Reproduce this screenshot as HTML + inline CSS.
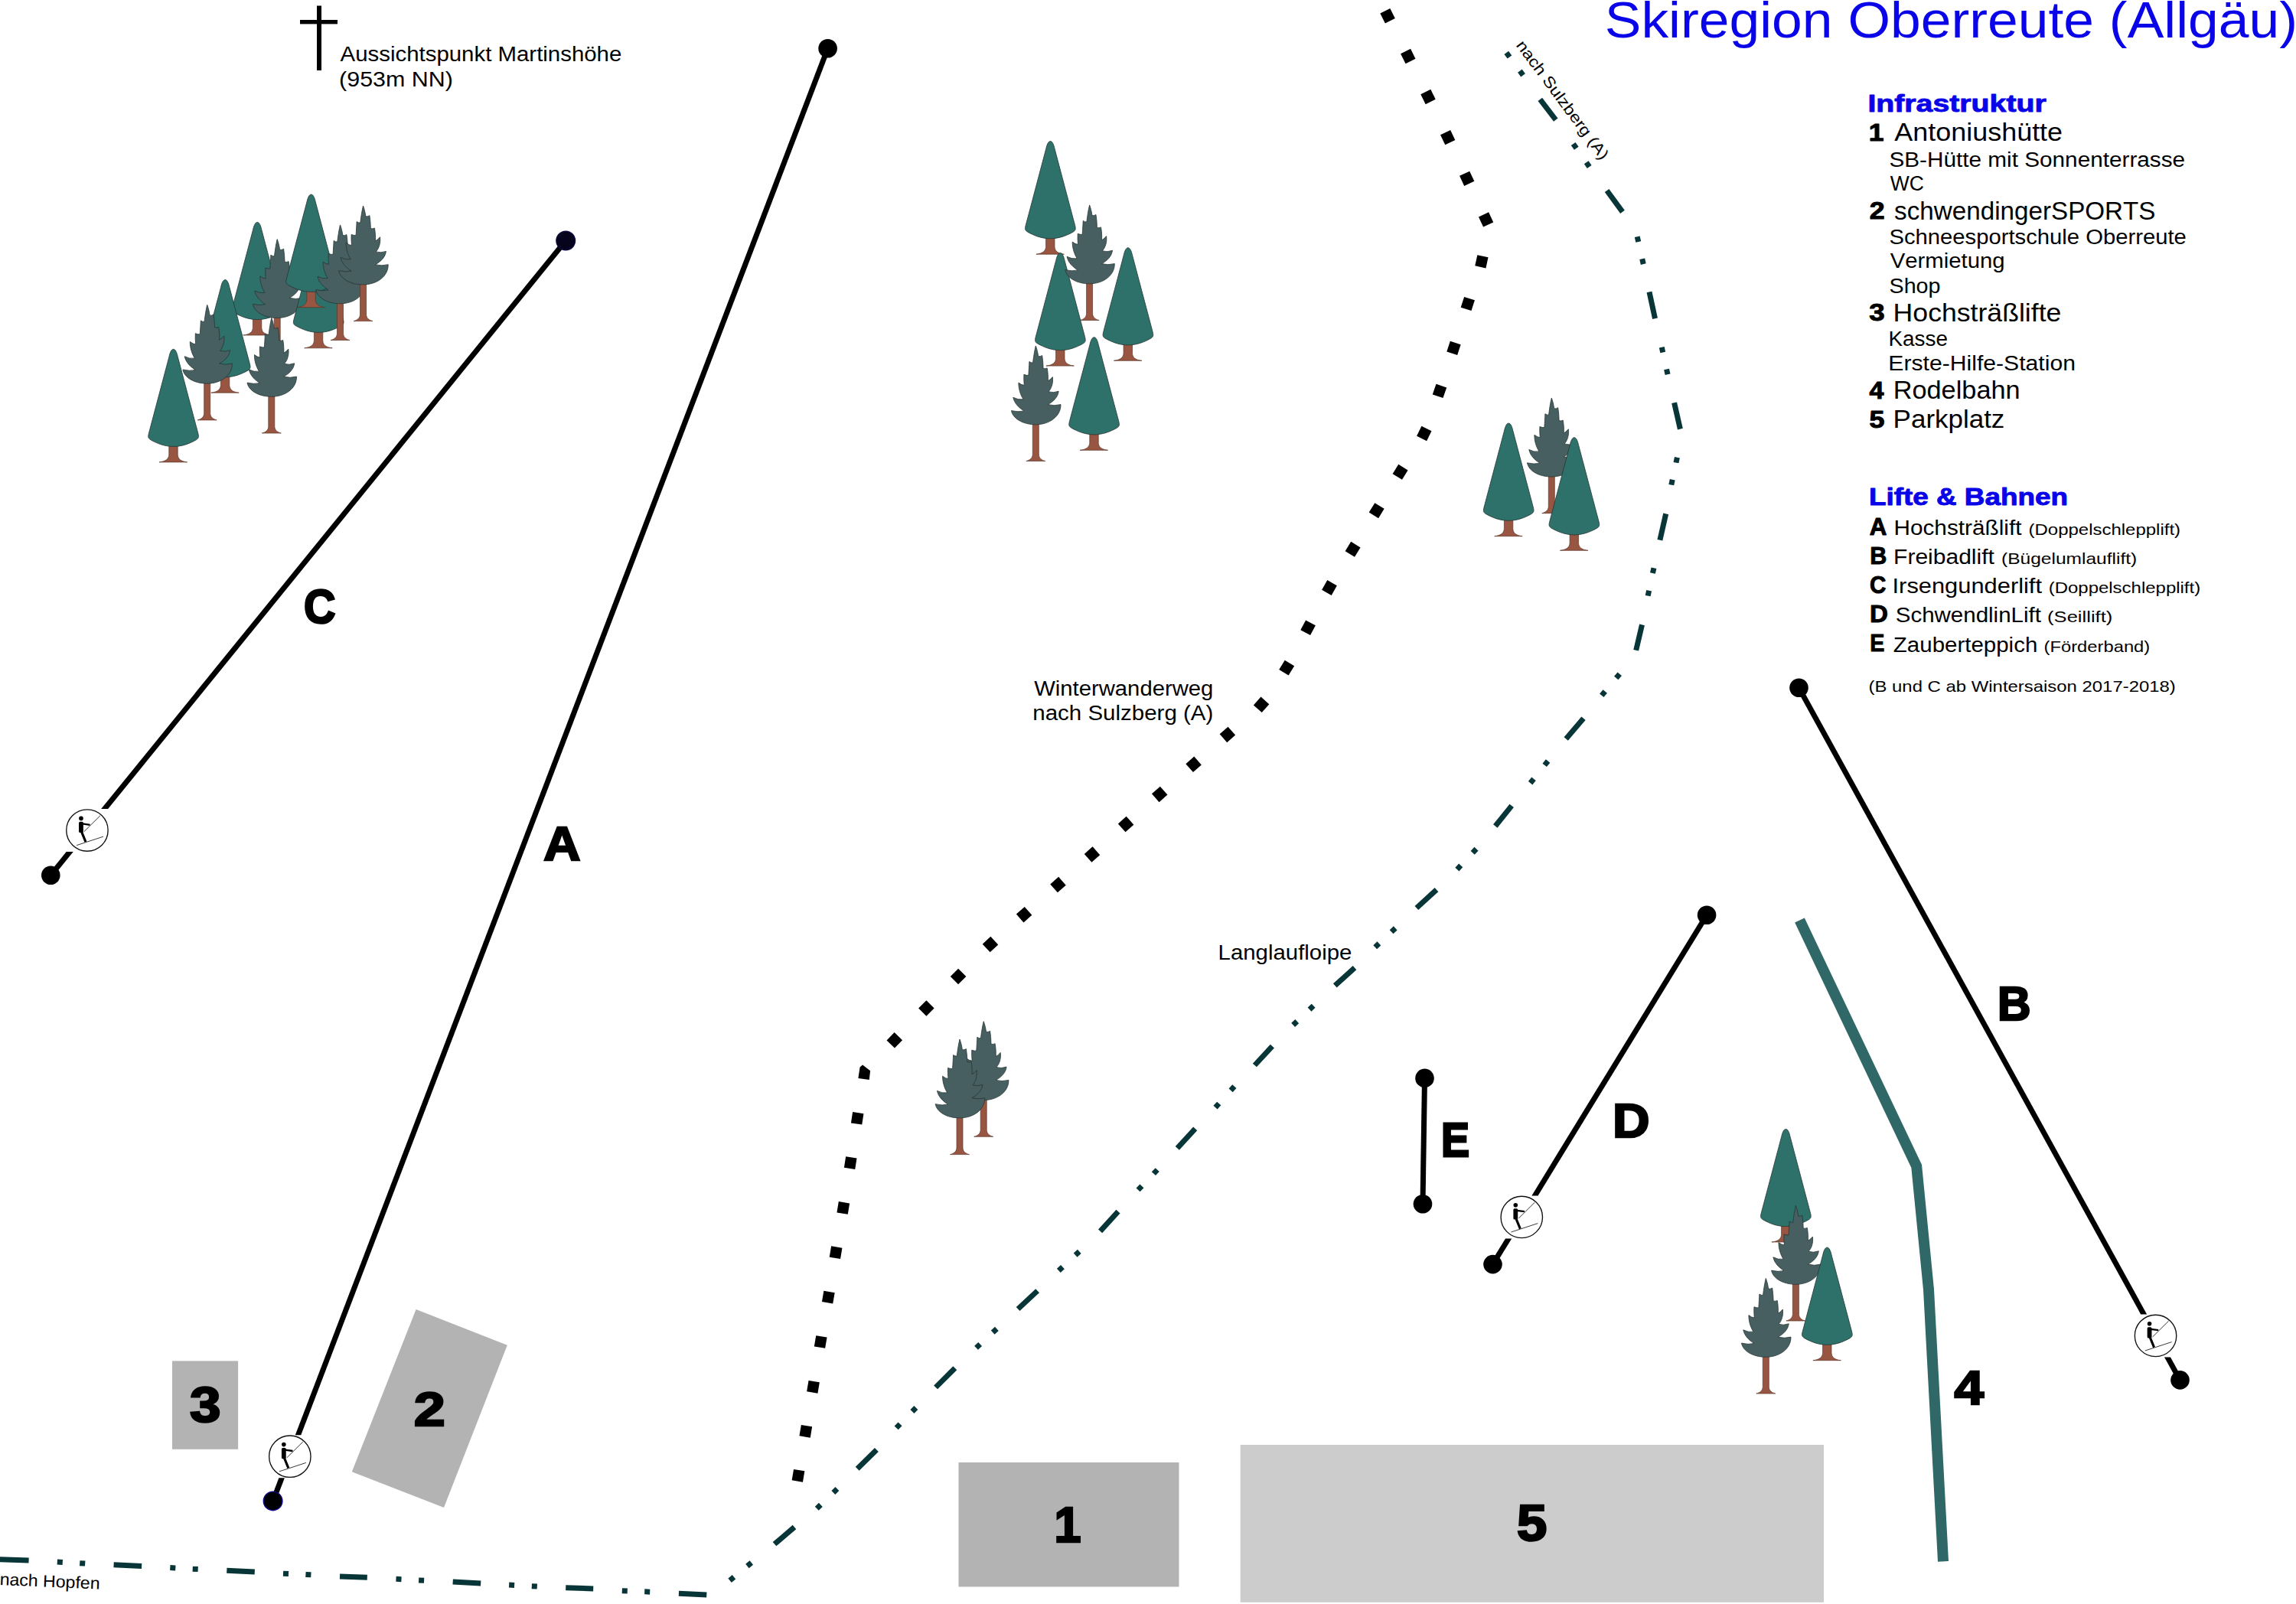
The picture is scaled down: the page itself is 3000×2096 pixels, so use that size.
<!DOCTYPE html>
<html><head><meta charset="utf-8"><title>Skiregion Oberreute</title><style>html,body{margin:0;padding:0;background:#fff;overflow:hidden;}svg{display:block;}</style></head><body>
<svg width="3000" height="2096" viewBox="0 0 3000 2096" font-family='"Liberation Sans", sans-serif' style="font-kerning:none"><rect x="225" y="1778.4" width="86.1" height="115.4" fill="#b3b3b3"/>
<polygon points="543.6,1710.9 662.8,1757.7 580,1970 459.8,1923.2" fill="#b3b3b3"/>
<rect x="1252.5" y="1911" width="288" height="162.5" fill="#b3b3b3"/>
<rect x="1620.7" y="1888" width="762.3" height="205.8" fill="#cccccc"/>
<g transform="translate(336.2,290.4)"><path d="M-5.8,124 L5.6,124 L5.6,138 C6,143.5 9.5,146.6 18,147.6 L-18.5,147.6 C-10,146.6 -6.2,143.5 -5.8,138 Z" fill="#985542" stroke="#5a3628" stroke-width="0.7"/><path d="M0,0 C2.7,0 4.5,4.5 5.7,10 L32.2,110 C33.4,114.5 33,116.5 30,118.3 C21,123.5 11,127.2 0,127.2 C-11,127.2 -21,123.5 -30,118.3 C-33,116.5 -33.4,114.5 -32.2,110 L-5.7,10 C-4.5,4.5 -2.7,0 0,0 Z" fill="#2d716a" stroke="#263634" stroke-width="0.8"/></g>
<g transform="translate(362.2,312.6)"><path d="M-4,100 L4,100 L4,142 C4.3,147 8,149.6 12.5,150.6 L-12.5,150.6 C-8,149.6 -4.3,147 -4,142 Z" fill="#985542" stroke="#5a3628" stroke-width="0.7"/><path d="M0,0 C1.5,4 2.8,9 3.3,13.6 Q6,14.5 8.4,12.6 C9.2,18 9.8,24 9.8,29.5 Q12.5,30.5 14.9,29 C16,35 16.3,41 15.9,45.8 Q19,44.5 22,40.7 C23,48 21,55 16.8,59.9 Q23,62 29.9,59.4 C29,67 23,73 15.9,76.7 Q24,79 32.7,76.7 C33,92 18,102.9 0,102.9 C-17,102.9 -30,95 -31.8,84.7 Q-23,87 -15.4,85.1 C-22,81 -28,75 -29.5,67.4 Q-23,71 -16.3,69.8 C-20,64 -22.5,56 -22.4,48.2 Q-18.5,51.5 -15,51.5 C-15.6,47 -15.6,42 -15.4,37.4 Q-12,39 -9.4,38.4 C-9,32 -8.6,26 -8.4,20.6 Q-6,22.5 -3.7,22 C-2.8,14 -1.5,6 0,0 Z" fill="#475f60" stroke="#263634" stroke-width="0.8"/></g>
<g transform="translate(416.2,307.2)"><path d="M-5.8,124 L5.6,124 L5.6,138 C6,143.5 9.5,146.6 18,147.6 L-18.5,147.6 C-10,146.6 -6.2,143.5 -5.8,138 Z" fill="#985542" stroke="#5a3628" stroke-width="0.7"/><path d="M0,0 C2.7,0 4.5,4.5 5.7,10 L32.2,110 C33.4,114.5 33,116.5 30,118.3 C21,123.5 11,127.2 0,127.2 C-11,127.2 -21,123.5 -30,118.3 C-33,116.5 -33.4,114.5 -32.2,110 L-5.7,10 C-4.5,4.5 -2.7,0 0,0 Z" fill="#2d716a" stroke="#263634" stroke-width="0.8"/></g>
<g transform="translate(406.6,254.1)"><path d="M-5.8,124 L5.6,124 L5.6,138 C6,143.5 9.5,146.6 18,147.6 L-18.5,147.6 C-10,146.6 -6.2,143.5 -5.8,138 Z" fill="#985542" stroke="#5a3628" stroke-width="0.7"/><path d="M0,0 C2.7,0 4.5,4.5 5.7,10 L32.2,110 C33.4,114.5 33,116.5 30,118.3 C21,123.5 11,127.2 0,127.2 C-11,127.2 -21,123.5 -30,118.3 C-33,116.5 -33.4,114.5 -32.2,110 L-5.7,10 C-4.5,4.5 -2.7,0 0,0 Z" fill="#2d716a" stroke="#263634" stroke-width="0.8"/></g>
<g transform="translate(444.5,293.9)"><path d="M-4,100 L4,100 L4,142 C4.3,147 8,149.6 12.5,150.6 L-12.5,150.6 C-8,149.6 -4.3,147 -4,142 Z" fill="#985542" stroke="#5a3628" stroke-width="0.7"/><path d="M0,0 C1.5,4 2.8,9 3.3,13.6 Q6,14.5 8.4,12.6 C9.2,18 9.8,24 9.8,29.5 Q12.5,30.5 14.9,29 C16,35 16.3,41 15.9,45.8 Q19,44.5 22,40.7 C23,48 21,55 16.8,59.9 Q23,62 29.9,59.4 C29,67 23,73 15.9,76.7 Q24,79 32.7,76.7 C33,92 18,102.9 0,102.9 C-17,102.9 -30,95 -31.8,84.7 Q-23,87 -15.4,85.1 C-22,81 -28,75 -29.5,67.4 Q-23,71 -16.3,69.8 C-20,64 -22.5,56 -22.4,48.2 Q-18.5,51.5 -15,51.5 C-15.6,47 -15.6,42 -15.4,37.4 Q-12,39 -9.4,38.4 C-9,32 -8.6,26 -8.4,20.6 Q-6,22.5 -3.7,22 C-2.8,14 -1.5,6 0,0 Z" fill="#475f60" stroke="#263634" stroke-width="0.8"/></g>
<g transform="translate(474.5,269)"><path d="M-4,100 L4,100 L4,142 C4.3,147 8,149.6 12.5,150.6 L-12.5,150.6 C-8,149.6 -4.3,147 -4,142 Z" fill="#985542" stroke="#5a3628" stroke-width="0.7"/><path d="M0,0 C1.5,4 2.8,9 3.3,13.6 Q6,14.5 8.4,12.6 C9.2,18 9.8,24 9.8,29.5 Q12.5,30.5 14.9,29 C16,35 16.3,41 15.9,45.8 Q19,44.5 22,40.7 C23,48 21,55 16.8,59.9 Q23,62 29.9,59.4 C29,67 23,73 15.9,76.7 Q24,79 32.7,76.7 C33,92 18,102.9 0,102.9 C-17,102.9 -30,95 -31.8,84.7 Q-23,87 -15.4,85.1 C-22,81 -28,75 -29.5,67.4 Q-23,71 -16.3,69.8 C-20,64 -22.5,56 -22.4,48.2 Q-18.5,51.5 -15,51.5 C-15.6,47 -15.6,42 -15.4,37.4 Q-12,39 -9.4,38.4 C-9,32 -8.6,26 -8.4,20.6 Q-6,22.5 -3.7,22 C-2.8,14 -1.5,6 0,0 Z" fill="#475f60" stroke="#263634" stroke-width="0.8"/></g>
<g transform="translate(294.2,365.6)"><path d="M-5.8,124 L5.6,124 L5.6,138 C6,143.5 9.5,146.6 18,147.6 L-18.5,147.6 C-10,146.6 -6.2,143.5 -5.8,138 Z" fill="#985542" stroke="#5a3628" stroke-width="0.7"/><path d="M0,0 C2.7,0 4.5,4.5 5.7,10 L32.2,110 C33.4,114.5 33,116.5 30,118.3 C21,123.5 11,127.2 0,127.2 C-11,127.2 -21,123.5 -30,118.3 C-33,116.5 -33.4,114.5 -32.2,110 L-5.7,10 C-4.5,4.5 -2.7,0 0,0 Z" fill="#2d716a" stroke="#263634" stroke-width="0.8"/></g>
<g transform="translate(270.7,398.3)"><path d="M-4,100 L4,100 L4,142 C4.3,147 8,149.6 12.5,150.6 L-12.5,150.6 C-8,149.6 -4.3,147 -4,142 Z" fill="#985542" stroke="#5a3628" stroke-width="0.7"/><path d="M0,0 C1.5,4 2.8,9 3.3,13.6 Q6,14.5 8.4,12.6 C9.2,18 9.8,24 9.8,29.5 Q12.5,30.5 14.9,29 C16,35 16.3,41 15.9,45.8 Q19,44.5 22,40.7 C23,48 21,55 16.8,59.9 Q23,62 29.9,59.4 C29,67 23,73 15.9,76.7 Q24,79 32.7,76.7 C33,92 18,102.9 0,102.9 C-17,102.9 -30,95 -31.8,84.7 Q-23,87 -15.4,85.1 C-22,81 -28,75 -29.5,67.4 Q-23,71 -16.3,69.8 C-20,64 -22.5,56 -22.4,48.2 Q-18.5,51.5 -15,51.5 C-15.6,47 -15.6,42 -15.4,37.4 Q-12,39 -9.4,38.4 C-9,32 -8.6,26 -8.4,20.6 Q-6,22.5 -3.7,22 C-2.8,14 -1.5,6 0,0 Z" fill="#475f60" stroke="#263634" stroke-width="0.8"/></g>
<g transform="translate(354.8,415.4)"><path d="M-4,100 L4,100 L4,142 C4.3,147 8,149.6 12.5,150.6 L-12.5,150.6 C-8,149.6 -4.3,147 -4,142 Z" fill="#985542" stroke="#5a3628" stroke-width="0.7"/><path d="M0,0 C1.5,4 2.8,9 3.3,13.6 Q6,14.5 8.4,12.6 C9.2,18 9.8,24 9.8,29.5 Q12.5,30.5 14.9,29 C16,35 16.3,41 15.9,45.8 Q19,44.5 22,40.7 C23,48 21,55 16.8,59.9 Q23,62 29.9,59.4 C29,67 23,73 15.9,76.7 Q24,79 32.7,76.7 C33,92 18,102.9 0,102.9 C-17,102.9 -30,95 -31.8,84.7 Q-23,87 -15.4,85.1 C-22,81 -28,75 -29.5,67.4 Q-23,71 -16.3,69.8 C-20,64 -22.5,56 -22.4,48.2 Q-18.5,51.5 -15,51.5 C-15.6,47 -15.6,42 -15.4,37.4 Q-12,39 -9.4,38.4 C-9,32 -8.6,26 -8.4,20.6 Q-6,22.5 -3.7,22 C-2.8,14 -1.5,6 0,0 Z" fill="#475f60" stroke="#263634" stroke-width="0.8"/></g>
<g transform="translate(226.6,456.3)"><path d="M-5.8,124 L5.6,124 L5.6,138 C6,143.5 9.5,146.6 18,147.6 L-18.5,147.6 C-10,146.6 -6.2,143.5 -5.8,138 Z" fill="#985542" stroke="#5a3628" stroke-width="0.7"/><path d="M0,0 C2.7,0 4.5,4.5 5.7,10 L32.2,110 C33.4,114.5 33,116.5 30,118.3 C21,123.5 11,127.2 0,127.2 C-11,127.2 -21,123.5 -30,118.3 C-33,116.5 -33.4,114.5 -32.2,110 L-5.7,10 C-4.5,4.5 -2.7,0 0,0 Z" fill="#2d716a" stroke="#263634" stroke-width="0.8"/></g>
<g transform="translate(1372.4,184.6)"><path d="M-5.8,124 L5.6,124 L5.6,138 C6,143.5 9.5,146.6 18,147.6 L-18.5,147.6 C-10,146.6 -6.2,143.5 -5.8,138 Z" fill="#985542" stroke="#5a3628" stroke-width="0.7"/><path d="M0,0 C2.7,0 4.5,4.5 5.7,10 L32.2,110 C33.4,114.5 33,116.5 30,118.3 C21,123.5 11,127.2 0,127.2 C-11,127.2 -21,123.5 -30,118.3 C-33,116.5 -33.4,114.5 -32.2,110 L-5.7,10 C-4.5,4.5 -2.7,0 0,0 Z" fill="#2d716a" stroke="#263634" stroke-width="0.8"/></g>
<g transform="translate(1385.4,330.5)"><path d="M-5.8,124 L5.6,124 L5.6,138 C6,143.5 9.5,146.6 18,147.6 L-18.5,147.6 C-10,146.6 -6.2,143.5 -5.8,138 Z" fill="#985542" stroke="#5a3628" stroke-width="0.7"/><path d="M0,0 C2.7,0 4.5,4.5 5.7,10 L32.2,110 C33.4,114.5 33,116.5 30,118.3 C21,123.5 11,127.2 0,127.2 C-11,127.2 -21,123.5 -30,118.3 C-33,116.5 -33.4,114.5 -32.2,110 L-5.7,10 C-4.5,4.5 -2.7,0 0,0 Z" fill="#2d716a" stroke="#263634" stroke-width="0.8"/></g>
<g transform="translate(1423.6,267.9)"><path d="M-4,100 L4,100 L4,142 C4.3,147 8,149.6 12.5,150.6 L-12.5,150.6 C-8,149.6 -4.3,147 -4,142 Z" fill="#985542" stroke="#5a3628" stroke-width="0.7"/><path d="M0,0 C1.5,4 2.8,9 3.3,13.6 Q6,14.5 8.4,12.6 C9.2,18 9.8,24 9.8,29.5 Q12.5,30.5 14.9,29 C16,35 16.3,41 15.9,45.8 Q19,44.5 22,40.7 C23,48 21,55 16.8,59.9 Q23,62 29.9,59.4 C29,67 23,73 15.9,76.7 Q24,79 32.7,76.7 C33,92 18,102.9 0,102.9 C-17,102.9 -30,95 -31.8,84.7 Q-23,87 -15.4,85.1 C-22,81 -28,75 -29.5,67.4 Q-23,71 -16.3,69.8 C-20,64 -22.5,56 -22.4,48.2 Q-18.5,51.5 -15,51.5 C-15.6,47 -15.6,42 -15.4,37.4 Q-12,39 -9.4,38.4 C-9,32 -8.6,26 -8.4,20.6 Q-6,22.5 -3.7,22 C-2.8,14 -1.5,6 0,0 Z" fill="#475f60" stroke="#263634" stroke-width="0.8"/></g>
<g transform="translate(1473.9,323.7)"><path d="M-5.8,124 L5.6,124 L5.6,138 C6,143.5 9.5,146.6 18,147.6 L-18.5,147.6 C-10,146.6 -6.2,143.5 -5.8,138 Z" fill="#985542" stroke="#5a3628" stroke-width="0.7"/><path d="M0,0 C2.7,0 4.5,4.5 5.7,10 L32.2,110 C33.4,114.5 33,116.5 30,118.3 C21,123.5 11,127.2 0,127.2 C-11,127.2 -21,123.5 -30,118.3 C-33,116.5 -33.4,114.5 -32.2,110 L-5.7,10 C-4.5,4.5 -2.7,0 0,0 Z" fill="#2d716a" stroke="#263634" stroke-width="0.8"/></g>
<g transform="translate(1353.3,451.9)"><path d="M-4,100 L4,100 L4,142 C4.3,147 8,149.6 12.5,150.6 L-12.5,150.6 C-8,149.6 -4.3,147 -4,142 Z" fill="#985542" stroke="#5a3628" stroke-width="0.7"/><path d="M0,0 C1.5,4 2.8,9 3.3,13.6 Q6,14.5 8.4,12.6 C9.2,18 9.8,24 9.8,29.5 Q12.5,30.5 14.9,29 C16,35 16.3,41 15.9,45.8 Q19,44.5 22,40.7 C23,48 21,55 16.8,59.9 Q23,62 29.9,59.4 C29,67 23,73 15.9,76.7 Q24,79 32.7,76.7 C33,92 18,102.9 0,102.9 C-17,102.9 -30,95 -31.8,84.7 Q-23,87 -15.4,85.1 C-22,81 -28,75 -29.5,67.4 Q-23,71 -16.3,69.8 C-20,64 -22.5,56 -22.4,48.2 Q-18.5,51.5 -15,51.5 C-15.6,47 -15.6,42 -15.4,37.4 Q-12,39 -9.4,38.4 C-9,32 -8.6,26 -8.4,20.6 Q-6,22.5 -3.7,22 C-2.8,14 -1.5,6 0,0 Z" fill="#475f60" stroke="#263634" stroke-width="0.8"/></g>
<g transform="translate(1429.6,440.7)"><path d="M-5.8,124 L5.6,124 L5.6,138 C6,143.5 9.5,146.6 18,147.6 L-18.5,147.6 C-10,146.6 -6.2,143.5 -5.8,138 Z" fill="#985542" stroke="#5a3628" stroke-width="0.7"/><path d="M0,0 C2.7,0 4.5,4.5 5.7,10 L32.2,110 C33.4,114.5 33,116.5 30,118.3 C21,123.5 11,127.2 0,127.2 C-11,127.2 -21,123.5 -30,118.3 C-33,116.5 -33.4,114.5 -32.2,110 L-5.7,10 C-4.5,4.5 -2.7,0 0,0 Z" fill="#2d716a" stroke="#263634" stroke-width="0.8"/></g>
<g transform="translate(2027.3,520.1)"><path d="M-4,100 L4,100 L4,142 C4.3,147 8,149.6 12.5,150.6 L-12.5,150.6 C-8,149.6 -4.3,147 -4,142 Z" fill="#985542" stroke="#5a3628" stroke-width="0.7"/><path d="M0,0 C1.5,4 2.8,9 3.3,13.6 Q6,14.5 8.4,12.6 C9.2,18 9.8,24 9.8,29.5 Q12.5,30.5 14.9,29 C16,35 16.3,41 15.9,45.8 Q19,44.5 22,40.7 C23,48 21,55 16.8,59.9 Q23,62 29.9,59.4 C29,67 23,73 15.9,76.7 Q24,79 32.7,76.7 C33,92 18,102.9 0,102.9 C-17,102.9 -30,95 -31.8,84.7 Q-23,87 -15.4,85.1 C-22,81 -28,75 -29.5,67.4 Q-23,71 -16.3,69.8 C-20,64 -22.5,56 -22.4,48.2 Q-18.5,51.5 -15,51.5 C-15.6,47 -15.6,42 -15.4,37.4 Q-12,39 -9.4,38.4 C-9,32 -8.6,26 -8.4,20.6 Q-6,22.5 -3.7,22 C-2.8,14 -1.5,6 0,0 Z" fill="#475f60" stroke="#263634" stroke-width="0.8"/></g>
<g transform="translate(1971.2,553.1)"><path d="M-5.8,124 L5.6,124 L5.6,138 C6,143.5 9.5,146.6 18,147.6 L-18.5,147.6 C-10,146.6 -6.2,143.5 -5.8,138 Z" fill="#985542" stroke="#5a3628" stroke-width="0.7"/><path d="M0,0 C2.7,0 4.5,4.5 5.7,10 L32.2,110 C33.4,114.5 33,116.5 30,118.3 C21,123.5 11,127.2 0,127.2 C-11,127.2 -21,123.5 -30,118.3 C-33,116.5 -33.4,114.5 -32.2,110 L-5.7,10 C-4.5,4.5 -2.7,0 0,0 Z" fill="#2d716a" stroke="#263634" stroke-width="0.8"/></g>
<g transform="translate(2056.9,571.7)"><path d="M-5.8,124 L5.6,124 L5.6,138 C6,143.5 9.5,146.6 18,147.6 L-18.5,147.6 C-10,146.6 -6.2,143.5 -5.8,138 Z" fill="#985542" stroke="#5a3628" stroke-width="0.7"/><path d="M0,0 C2.7,0 4.5,4.5 5.7,10 L32.2,110 C33.4,114.5 33,116.5 30,118.3 C21,123.5 11,127.2 0,127.2 C-11,127.2 -21,123.5 -30,118.3 C-33,116.5 -33.4,114.5 -32.2,110 L-5.7,10 C-4.5,4.5 -2.7,0 0,0 Z" fill="#2d716a" stroke="#263634" stroke-width="0.8"/></g>
<g transform="translate(1285.2,1334.7)"><path d="M-4,100 L4,100 L4,142 C4.3,147 8,149.6 12.5,150.6 L-12.5,150.6 C-8,149.6 -4.3,147 -4,142 Z" fill="#985542" stroke="#5a3628" stroke-width="0.7"/><path d="M0,0 C1.5,4 2.8,9 3.3,13.6 Q6,14.5 8.4,12.6 C9.2,18 9.8,24 9.8,29.5 Q12.5,30.5 14.9,29 C16,35 16.3,41 15.9,45.8 Q19,44.5 22,40.7 C23,48 21,55 16.8,59.9 Q23,62 29.9,59.4 C29,67 23,73 15.9,76.7 Q24,79 32.7,76.7 C33,92 18,102.9 0,102.9 C-17,102.9 -30,95 -31.8,84.7 Q-23,87 -15.4,85.1 C-22,81 -28,75 -29.5,67.4 Q-23,71 -16.3,69.8 C-20,64 -22.5,56 -22.4,48.2 Q-18.5,51.5 -15,51.5 C-15.6,47 -15.6,42 -15.4,37.4 Q-12,39 -9.4,38.4 C-9,32 -8.6,26 -8.4,20.6 Q-6,22.5 -3.7,22 C-2.8,14 -1.5,6 0,0 Z" fill="#475f60" stroke="#263634" stroke-width="0.8"/></g>
<g transform="translate(1254,1358)"><path d="M-4,100 L4,100 L4,142 C4.3,147 8,149.6 12.5,150.6 L-12.5,150.6 C-8,149.6 -4.3,147 -4,142 Z" fill="#985542" stroke="#5a3628" stroke-width="0.7"/><path d="M0,0 C1.5,4 2.8,9 3.3,13.6 Q6,14.5 8.4,12.6 C9.2,18 9.8,24 9.8,29.5 Q12.5,30.5 14.9,29 C16,35 16.3,41 15.9,45.8 Q19,44.5 22,40.7 C23,48 21,55 16.8,59.9 Q23,62 29.9,59.4 C29,67 23,73 15.9,76.7 Q24,79 32.7,76.7 C33,92 18,102.9 0,102.9 C-17,102.9 -30,95 -31.8,84.7 Q-23,87 -15.4,85.1 C-22,81 -28,75 -29.5,67.4 Q-23,71 -16.3,69.8 C-20,64 -22.5,56 -22.4,48.2 Q-18.5,51.5 -15,51.5 C-15.6,47 -15.6,42 -15.4,37.4 Q-12,39 -9.4,38.4 C-9,32 -8.6,26 -8.4,20.6 Q-6,22.5 -3.7,22 C-2.8,14 -1.5,6 0,0 Z" fill="#475f60" stroke="#263634" stroke-width="0.8"/></g>
<g transform="translate(2333.4,1475.4)"><path d="M-5.8,124 L5.6,124 L5.6,138 C6,143.5 9.5,146.6 18,147.6 L-18.5,147.6 C-10,146.6 -6.2,143.5 -5.8,138 Z" fill="#985542" stroke="#5a3628" stroke-width="0.7"/><path d="M0,0 C2.7,0 4.5,4.5 5.7,10 L32.2,110 C33.4,114.5 33,116.5 30,118.3 C21,123.5 11,127.2 0,127.2 C-11,127.2 -21,123.5 -30,118.3 C-33,116.5 -33.4,114.5 -32.2,110 L-5.7,10 C-4.5,4.5 -2.7,0 0,0 Z" fill="#2d716a" stroke="#263634" stroke-width="0.8"/></g>
<g transform="translate(2346.4,1575.4)"><path d="M-4,100 L4,100 L4,142 C4.3,147 8,149.6 12.5,150.6 L-12.5,150.6 C-8,149.6 -4.3,147 -4,142 Z" fill="#985542" stroke="#5a3628" stroke-width="0.7"/><path d="M0,0 C1.5,4 2.8,9 3.3,13.6 Q6,14.5 8.4,12.6 C9.2,18 9.8,24 9.8,29.5 Q12.5,30.5 14.9,29 C16,35 16.3,41 15.9,45.8 Q19,44.5 22,40.7 C23,48 21,55 16.8,59.9 Q23,62 29.9,59.4 C29,67 23,73 15.9,76.7 Q24,79 32.7,76.7 C33,92 18,102.9 0,102.9 C-17,102.9 -30,95 -31.8,84.7 Q-23,87 -15.4,85.1 C-22,81 -28,75 -29.5,67.4 Q-23,71 -16.3,69.8 C-20,64 -22.5,56 -22.4,48.2 Q-18.5,51.5 -15,51.5 C-15.6,47 -15.6,42 -15.4,37.4 Q-12,39 -9.4,38.4 C-9,32 -8.6,26 -8.4,20.6 Q-6,22.5 -3.7,22 C-2.8,14 -1.5,6 0,0 Z" fill="#475f60" stroke="#263634" stroke-width="0.8"/></g>
<g transform="translate(2387.4,1630.1)"><path d="M-5.8,124 L5.6,124 L5.6,138 C6,143.5 9.5,146.6 18,147.6 L-18.5,147.6 C-10,146.6 -6.2,143.5 -5.8,138 Z" fill="#985542" stroke="#5a3628" stroke-width="0.7"/><path d="M0,0 C2.7,0 4.5,4.5 5.7,10 L32.2,110 C33.4,114.5 33,116.5 30,118.3 C21,123.5 11,127.2 0,127.2 C-11,127.2 -21,123.5 -30,118.3 C-33,116.5 -33.4,114.5 -32.2,110 L-5.7,10 C-4.5,4.5 -2.7,0 0,0 Z" fill="#2d716a" stroke="#263634" stroke-width="0.8"/></g>
<g transform="translate(2307.3,1670.4)"><path d="M-4,100 L4,100 L4,142 C4.3,147 8,149.6 12.5,150.6 L-12.5,150.6 C-8,149.6 -4.3,147 -4,142 Z" fill="#985542" stroke="#5a3628" stroke-width="0.7"/><path d="M0,0 C1.5,4 2.8,9 3.3,13.6 Q6,14.5 8.4,12.6 C9.2,18 9.8,24 9.8,29.5 Q12.5,30.5 14.9,29 C16,35 16.3,41 15.9,45.8 Q19,44.5 22,40.7 C23,48 21,55 16.8,59.9 Q23,62 29.9,59.4 C29,67 23,73 15.9,76.7 Q24,79 32.7,76.7 C33,92 18,102.9 0,102.9 C-17,102.9 -30,95 -31.8,84.7 Q-23,87 -15.4,85.1 C-22,81 -28,75 -29.5,67.4 Q-23,71 -16.3,69.8 C-20,64 -22.5,56 -22.4,48.2 Q-18.5,51.5 -15,51.5 C-15.6,47 -15.6,42 -15.4,37.4 Q-12,39 -9.4,38.4 C-9,32 -8.6,26 -8.4,20.6 Q-6,22.5 -3.7,22 C-2.8,14 -1.5,6 0,0 Z" fill="#475f60" stroke="#263634" stroke-width="0.8"/></g>
<g fill="#000"><rect x="-7.25" y="-7.25" width="14.5" height="14.5" transform="translate(1813.1,20.7) rotate(63.22)"/><rect x="-7.25" y="-7.25" width="14.5" height="14.5" transform="translate(1839.8,73.6) rotate(63.43)"/><rect x="-7.25" y="-7.25" width="14.5" height="14.5" transform="translate(1866,126.5) rotate(63.91)"/><rect x="-7.25" y="-7.25" width="14.5" height="14.5" transform="translate(1891.7,179.6) rotate(64.61)"/><rect x="-7.25" y="-7.25" width="14.5" height="14.5" transform="translate(1916.7,233.3) rotate(65.06)"/><rect x="-7.25" y="-7.25" width="14.5" height="14.5" transform="translate(1941.6,286.9) rotate(65.08)"/><rect x="-7.25" y="-7.25" width="14.5" height="14.5" transform="translate(1935.9,341.8) rotate(102.2)"/><rect x="-7.25" y="-7.25" width="14.5" height="14.5" transform="translate(1917.8,397) rotate(107.85)"/><rect x="-7.25" y="-7.25" width="14.5" height="14.5" transform="translate(1899.5,454.8) rotate(107.91)"/><rect x="-7.25" y="-7.25" width="14.5" height="14.5" transform="translate(1881,510.9) rotate(109.11)"/><rect x="-7.25" y="-7.25" width="14.5" height="14.5" transform="translate(1860.8,566.5) rotate(115.89)"/><rect x="-7.25" y="-7.25" width="14.5" height="14.5" transform="translate(1829.6,616.8) rotate(121.66)"/><rect x="-7.25" y="-7.25" width="14.5" height="14.5" transform="translate(1798.7,667.2) rotate(121.54)"/><rect x="-7.25" y="-7.25" width="14.5" height="14.5" transform="translate(1767.6,717.8) rotate(121.47)"/><rect x="-7.25" y="-7.25" width="14.5" height="14.5" transform="translate(1737,768) rotate(119.71)"/><rect x="-7.25" y="-7.25" width="14.5" height="14.5" transform="translate(1709.1,820.3) rotate(118.08)"/><rect x="-7.25" y="-7.25" width="14.5" height="14.5" transform="translate(1681.2,872.6) rotate(121.26)"/><rect x="-7.25" y="-7.25" width="14.5" height="14.5" transform="translate(1648.1,920.8) rotate(131.52)"/><rect x="-7.25" y="-7.25" width="14.5" height="14.5" transform="translate(1603.9,959.9) rotate(138.61)"/><rect x="-7.25" y="-7.25" width="14.5" height="14.5" transform="translate(1559.6,998.8) rotate(138.67)"/><rect x="-7.25" y="-7.25" width="14.5" height="14.5" transform="translate(1515.2,1037.9) rotate(138.5)"/><rect x="-7.25" y="-7.25" width="14.5" height="14.5" transform="translate(1471.1,1077.1) rotate(138.26)"/><rect x="-7.25" y="-7.25" width="14.5" height="14.5" transform="translate(1427,1116.6) rotate(138.28)"/><rect x="-7.25" y="-7.25" width="14.5" height="14.5" transform="translate(1382.5,1156.1) rotate(138.52)"/><rect x="-7.25" y="-7.25" width="14.5" height="14.5" transform="translate(1338.1,1195.2) rotate(138.61)"/><rect x="-7.25" y="-7.25" width="14.5" height="14.5" transform="translate(1294,1234.1) rotate(136.79)"/><rect x="-7.25" y="-7.25" width="14.5" height="14.5" transform="translate(1252.1,1276) rotate(135.03)"/><rect x="-7.25" y="-7.25" width="14.5" height="14.5" transform="translate(1210.4,1317.6) rotate(135)"/><rect x="-7.25" y="-7.25" width="14.5" height="14.5" transform="translate(1168.8,1359.3) rotate(134.13)"/><polygon points="1121.4,1408.9 1123.6,1394.5 1127.1,1391.5 1137.1,1399.3 1135.8,1411.1"/><rect x="-7.25" y="-7.25" width="14.5" height="14.5" transform="translate(1120.2,1461.3) rotate(98.65)"/><rect x="-7.25" y="-7.25" width="14.5" height="14.5" transform="translate(1111.2,1519.6) rotate(98.93)"/><rect x="-7.25" y="-7.25" width="14.5" height="14.5" transform="translate(1101.8,1578.4) rotate(99.26)"/><rect x="-7.25" y="-7.25" width="14.5" height="14.5" transform="translate(1092.1,1636.7) rotate(99.49)"/><rect x="-7.25" y="-7.25" width="14.5" height="14.5" transform="translate(1082.3,1695.1) rotate(99.67)"/><rect x="-7.25" y="-7.25" width="14.5" height="14.5" transform="translate(1072.2,1753.5) rotate(99.59)"/><rect x="-7.25" y="-7.25" width="14.5" height="14.5" transform="translate(1062.5,1812.3) rotate(99.43)"/><rect x="-7.25" y="-7.25" width="14.5" height="14.5" transform="translate(1052.8,1870.3) rotate(99.54)"/><rect x="-7.25" y="-7.25" width="14.5" height="14.5" transform="translate(1043,1928.3) rotate(99.59)"/></g>
<g fill="#083537" stroke="#083537" stroke-width="7"><rect x="-3.5" y="-3.5" width="7" height="7" transform="translate(1970.4,71.7) rotate(53.52)" stroke="none"/><rect x="-3.5" y="-3.5" width="7" height="7" transform="translate(1988,95.5) rotate(53.52)" stroke="none"/><line x1="2012.3" y1="129.8" x2="2032.8" y2="156.7"/><rect x="-3.5" y="-3.5" width="7" height="7" transform="translate(2057.7,190.9) rotate(54.91)" stroke="none"/><rect x="-3.5" y="-3.5" width="7" height="7" transform="translate(2074.7,215.1) rotate(54.91)" stroke="none"/><line x1="2099.6" y1="249" x2="2120" y2="276.9"/><rect x="-3.5" y="-3.5" width="7" height="7" transform="translate(2140,312.6) rotate(77.41)" stroke="none"/><rect x="-3.5" y="-3.5" width="7" height="7" transform="translate(2146.5,341.7) rotate(77.41)" stroke="none"/><line x1="2155" y1="381.6" x2="2162.5" y2="416.2"/><rect x="-3.5" y="-3.5" width="7" height="7" transform="translate(2172,457.1) rotate(77.62)" stroke="none"/><rect x="-3.5" y="-3.5" width="7" height="7" transform="translate(2178.3,485.8) rotate(77.62)" stroke="none"/><line x1="2187.6" y1="526.3" x2="2195.4" y2="560.6"/><rect x="-3.5" y="-3.5" width="7" height="7" transform="translate(2190.7,601.2) rotate(102.07)" stroke="none"/><rect x="-3.5" y="-3.5" width="7" height="7" transform="translate(2184.5,630.2) rotate(102.07)" stroke="none"/><line x1="2176.7" y1="671.4" x2="2168.9" y2="705.7"/><rect x="-3.5" y="-3.5" width="7" height="7" transform="translate(2160.2,745.6) rotate(102.02)" stroke="none"/><rect x="-3.5" y="-3.5" width="7" height="7" transform="translate(2153.9,775.2) rotate(102.02)" stroke="none"/><line x1="2145.5" y1="816.4" x2="2137.7" y2="849.8"/><rect x="-3.5" y="-3.5" width="7" height="7" transform="translate(2114,883.4) rotate(129.93)" stroke="none"/><rect x="-3.5" y="-3.5" width="7" height="7" transform="translate(2095,906.1) rotate(129.93)" stroke="none"/><line x1="2069" y1="938.7" x2="2046.2" y2="965.6"/><rect x="-3.5" y="-3.5" width="7" height="7" transform="translate(2020.4,997.2) rotate(128.6)" stroke="none"/><rect x="-3.5" y="-3.5" width="7" height="7" transform="translate(2001.8,1020.5) rotate(128.6)" stroke="none"/><line x1="1975.2" y1="1052.9" x2="1953.8" y2="1079.5"/><rect x="-3.5" y="-3.5" width="7" height="7" transform="translate(1926.6,1111.8) rotate(133.09)" stroke="none"/><rect x="-3.5" y="-3.5" width="7" height="7" transform="translate(1906.3,1133.5) rotate(133.09)" stroke="none"/><line x1="1877" y1="1162.6" x2="1850.9" y2="1186.5"/><rect x="-3.5" y="-3.5" width="7" height="7" transform="translate(1820.7,1215.3) rotate(136.94)" stroke="none"/><rect x="-3.5" y="-3.5" width="7" height="7" transform="translate(1799.3,1235.3) rotate(136.94)" stroke="none"/><line x1="1770" y1="1264.7" x2="1744.3" y2="1287.9"/><rect x="-3.5" y="-3.5" width="7" height="7" transform="translate(1713.6,1316.7) rotate(136.51)" stroke="none"/><rect x="-3.5" y="-3.5" width="7" height="7" transform="translate(1692.2,1337) rotate(136.51)" stroke="none"/><line x1="1662.4" y1="1367.1" x2="1639.4" y2="1392"/><rect x="-3.5" y="-3.5" width="7" height="7" transform="translate(1610.5,1422.3) rotate(132.03)" stroke="none"/><rect x="-3.5" y="-3.5" width="7" height="7" transform="translate(1590.4,1444.6) rotate(132.03)" stroke="none"/><line x1="1561.7" y1="1474.9" x2="1538.3" y2="1500.3"/><rect x="-3.5" y="-3.5" width="7" height="7" transform="translate(1509.8,1531.1) rotate(133.62)" stroke="none"/><rect x="-3.5" y="-3.5" width="7" height="7" transform="translate(1489.5,1552.4) rotate(133.62)" stroke="none"/><line x1="1461" y1="1583.2" x2="1437.6" y2="1608.8"/><rect x="-3.5" y="-3.5" width="7" height="7" transform="translate(1407.7,1637.8) rotate(137.18)" stroke="none"/><rect x="-3.5" y="-3.5" width="7" height="7" transform="translate(1385.9,1658) rotate(137.18)" stroke="none"/><line x1="1355.6" y1="1686.8" x2="1330.1" y2="1710.5"/><rect x="-3.5" y="-3.5" width="7" height="7" transform="translate(1299.8,1738.7) rotate(137.05)" stroke="none"/><rect x="-3.5" y="-3.5" width="7" height="7" transform="translate(1278.1,1758.9) rotate(137.05)" stroke="none"/><line x1="1247.8" y1="1787.7" x2="1222.6" y2="1812.9"/><rect x="-3.5" y="-3.5" width="7" height="7" transform="translate(1194.4,1842) rotate(134.19)" stroke="none"/><rect x="-3.5" y="-3.5" width="7" height="7" transform="translate(1173.6,1863.4) rotate(134.19)" stroke="none"/><line x1="1145.4" y1="1894.6" x2="1120.2" y2="1919.2"/><rect x="-3.5" y="-3.5" width="7" height="7" transform="translate(1091.4,1948) rotate(136.08)" stroke="none"/><rect x="-3.5" y="-3.5" width="7" height="7" transform="translate(1069.8,1968.8) rotate(136.08)" stroke="none"/><line x1="1038" y1="1995.5" x2="1012" y2="2017.7"/><rect x="-3.5" y="-3.5" width="7" height="7" transform="translate(979.1,2044.2) rotate(140.49)" stroke="none"/><rect x="-3.5" y="-3.5" width="7" height="7" transform="translate(956.3,2063) rotate(140.49)" stroke="none"/><line x1="923.3" y1="2083.9" x2="886.9" y2="2082.3"/><rect x="-3.5" y="-3.5" width="7" height="7" transform="translate(845.7,2080) rotate(-177.66)" stroke="none"/><rect x="-3.5" y="-3.5" width="7" height="7" transform="translate(816.3,2078.8) rotate(-177.66)" stroke="none"/><line x1="775.2" y1="2075.9" x2="739.2" y2="2074.8"/><rect x="-3.5" y="-3.5" width="7" height="7" transform="translate(698.3,2072.9) rotate(-176.72)" stroke="none"/><rect x="-3.5" y="-3.5" width="7" height="7" transform="translate(668.6,2071.2) rotate(-176.72)" stroke="none"/><line x1="628.2" y1="2068.9" x2="591.7" y2="2067"/><rect x="-3.5" y="-3.5" width="7" height="7" transform="translate(550.6,2065.1) rotate(-176.91)" stroke="none"/><rect x="-3.5" y="-3.5" width="7" height="7" transform="translate(521,2063.5) rotate(-176.91)" stroke="none"/><line x1="479.8" y1="2061.3" x2="444" y2="2060.1"/><rect x="-3.5" y="-3.5" width="7" height="7" transform="translate(402.9,2057.7) rotate(-177.27)" stroke="none"/><rect x="-3.5" y="-3.5" width="7" height="7" transform="translate(373.5,2056.3) rotate(-177.27)" stroke="none"/><line x1="332.8" y1="2054" x2="296.3" y2="2052.3"/><rect x="-3.5" y="-3.5" width="7" height="7" transform="translate(255.2,2050.4) rotate(-176.88)" stroke="none"/><rect x="-3.5" y="-3.5" width="7" height="7" transform="translate(225.8,2048.8) rotate(-176.88)" stroke="none"/><line x1="185.1" y1="2046.4" x2="148.6" y2="2044.8"/><rect x="-3.5" y="-3.5" width="7" height="7" transform="translate(107.7,2042.9) rotate(-176.88)" stroke="none"/><rect x="-3.5" y="-3.5" width="7" height="7" transform="translate(78.3,2041.3) rotate(-176.88)" stroke="none"/><line x1="37.6" y1="2038.9" x2="-2" y2="2037.6"/></g>
<polyline points="2351.5,1202.5 2504.2,1524 2520,1685 2539,2040.3" fill="none" stroke="#2f6867" stroke-width="14" stroke-linejoin="miter"/>
<polygon points="1077.85,63.3 1085.35,63.3 393.27,1875.2 385.78,1875.2" fill="#000"/>
<polygon points="364.39,1931.2 371.88,1931.2 360.35,1961.4 352.85,1961.4" fill="#000"/>
<g transform="translate(378.83,1903.2)"><circle cx="0" cy="0" r="27.2" fill="#fff" stroke="#111" stroke-width="1.35"/><circle cx="-8" cy="-15.6" r="2.8" fill="#000"/><rect x="-10.9" y="-11.2" width="5.8" height="14.3" rx="1.6" fill="#000"/><line x1="-7.3" y1="2.2" x2="-2" y2="15.2" stroke="#000" stroke-width="3.1"/><line x1="-6.5" y1="-8.6" x2="3.6" y2="-7.2" stroke="#000" stroke-width="2.3"/><line x1="-4" y1="1.6" x2="17" y2="-19.2" stroke="#222" stroke-width="0.9"/><line x1="-13.8" y1="19.6" x2="21" y2="8.2" stroke="#222" stroke-width="0.9"/></g>
<circle cx="1081.6" cy="63.3" r="12.3" fill="#000"/>
<circle cx="356.6" cy="1961.4" r="12.3" fill="#000" stroke="#10068a" stroke-width="1.4"/>
<polygon points="734.69,314.5 743.71,314.5 141.16,1057 132.15,1057" fill="#000"/>
<polygon points="86.71,1113 95.72,1113 70.81,1143.7 61.79,1143.7" fill="#000"/>
<g transform="translate(113.94,1085)"><circle cx="0" cy="0" r="27.2" fill="#fff" stroke="#111" stroke-width="1.35"/><circle cx="-8" cy="-15.6" r="2.8" fill="#000"/><rect x="-10.9" y="-11.2" width="5.8" height="14.3" rx="1.6" fill="#000"/><line x1="-7.3" y1="2.2" x2="-2" y2="15.2" stroke="#000" stroke-width="3.1"/><line x1="-6.5" y1="-8.6" x2="3.6" y2="-7.2" stroke="#000" stroke-width="2.3"/><line x1="-4" y1="1.6" x2="17" y2="-19.2" stroke="#222" stroke-width="0.9"/><line x1="-13.8" y1="19.6" x2="21" y2="8.2" stroke="#222" stroke-width="0.9"/></g>
<circle cx="739.2" cy="314.5" r="12.3" fill="#06031c" stroke="#0c0840" stroke-width="1.4"/>
<circle cx="66.3" cy="1143.7" r="12.3" fill="#000"/>
<polygon points="2346.5,898.8 2354.5,898.8 2805.15,1717.4 2797.16,1717.4" fill="#000"/>
<polygon points="2827.99,1773.4 2835.98,1773.4 2852.5,1803.4 2844.5,1803.4" fill="#000"/>
<g transform="translate(2816.57,1745.4)"><circle cx="0" cy="0" r="27.2" fill="#fff" stroke="#111" stroke-width="1.35"/><circle cx="-8" cy="-15.6" r="2.8" fill="#000"/><rect x="-10.9" y="-11.2" width="5.8" height="14.3" rx="1.6" fill="#000"/><line x1="-7.3" y1="2.2" x2="-2" y2="15.2" stroke="#000" stroke-width="3.1"/><line x1="-6.5" y1="-8.6" x2="3.6" y2="-7.2" stroke="#000" stroke-width="2.3"/><line x1="-4" y1="1.6" x2="17" y2="-19.2" stroke="#222" stroke-width="0.9"/><line x1="-13.8" y1="19.6" x2="21" y2="8.2" stroke="#222" stroke-width="0.9"/></g>
<circle cx="2350.5" cy="898.8" r="12.3" fill="#000"/>
<circle cx="2848.5" cy="1803.4" r="12.3" fill="#000"/>
<polygon points="2226,1195.7 2234.2,1195.7 2009.56,1562.4 2001.35,1562.4" fill="#000"/>
<polygon points="1967.04,1618.4 1975.25,1618.4 1954.6,1652.1 1946.4,1652.1" fill="#000"/>
<g transform="translate(1988.3,1590.4)"><circle cx="0" cy="0" r="27.2" fill="#fff" stroke="#111" stroke-width="1.35"/><circle cx="-8" cy="-15.6" r="2.8" fill="#000"/><rect x="-10.9" y="-11.2" width="5.8" height="14.3" rx="1.6" fill="#000"/><line x1="-7.3" y1="2.2" x2="-2" y2="15.2" stroke="#000" stroke-width="3.1"/><line x1="-6.5" y1="-8.6" x2="3.6" y2="-7.2" stroke="#000" stroke-width="2.3"/><line x1="-4" y1="1.6" x2="17" y2="-19.2" stroke="#222" stroke-width="0.9"/><line x1="-13.8" y1="19.6" x2="21" y2="8.2" stroke="#222" stroke-width="0.9"/></g>
<circle cx="2230.1" cy="1195.7" r="12.3" fill="#000"/>
<circle cx="1950.5" cy="1652.1" r="12.3" fill="#000"/>
<line x1="1861.5" y1="1408.9" x2="1859" y2="1573.2" stroke="#000" stroke-width="7"/>
<circle cx="1861.5" cy="1408.9" r="12.3" fill="#000"/>
<circle cx="1859" cy="1573.2" r="12.3" fill="#000"/>
<rect x="414" y="7.5" width="6" height="84.5" fill="#000"/>
<rect x="392" y="26" width="49" height="5.4" fill="#000"/>
<g transform="translate(710.14,1124.4) scale(0.6678,0.6323)"><text x="0" y="0" font-size="100.0" font-weight="bold" fill="#000" stroke="#000" stroke-width="4.001" stroke-linejoin="miter">A</text></g>
<g transform="translate(396.95,814.38) scale(0.5736,0.6313)"><text x="0" y="0" font-size="100.0" font-weight="bold" fill="#000" stroke="#000" stroke-width="4.321" stroke-linejoin="miter">C</text></g>
<g transform="translate(2609.97,1332.7) scale(0.6018,0.6308)"><text x="0" y="0" font-size="100.0" font-weight="bold" fill="#000" stroke="#000" stroke-width="4.220" stroke-linejoin="miter">B</text></g>
<g transform="translate(2107.01,1486.3) scale(0.6718,0.6352)"><text x="0" y="0" font-size="100.0" font-weight="bold" fill="#000" stroke="#000" stroke-width="3.980" stroke-linejoin="miter">D</text></g>
<g transform="translate(1882.88,1510.5) scale(0.5561,0.6294)"><text x="0" y="0" font-size="100.0" font-weight="bold" fill="#000" stroke="#000" stroke-width="4.395" stroke-linejoin="miter">E</text></g>
<g transform="translate(2553.45,1835) scale(0.6945,0.6352)"><text x="0" y="0" font-size="100.0" font-weight="bold" fill="#000" stroke="#000" stroke-width="3.915" stroke-linejoin="miter">4</text></g>
<g transform="translate(247.93,1858.48) scale(0.7283,0.6441)"><text x="0" y="0" font-size="100.0" font-weight="bold" fill="#000" stroke="#000" stroke-width="3.796" stroke-linejoin="miter">3</text></g>
<g transform="translate(540.64,1863.1) scale(0.7374,0.6330)"><text x="0" y="0" font-size="100.0" font-weight="bold" fill="#000" stroke="#000" stroke-width="3.806" stroke-linejoin="miter">2</text></g>
<g transform="translate(1377.53,2014.6) scale(0.6297,0.6454)"><text x="0" y="0" font-size="100.0" font-weight="bold" fill="#000" stroke="#000" stroke-width="4.079" stroke-linejoin="miter">1</text></g>
<g transform="translate(1981.92,2013.35) scale(0.7075,0.6664)"><text x="0" y="0" font-size="100.0" font-weight="bold" fill="#000" stroke="#000" stroke-width="3.787" stroke-linejoin="miter">5</text></g>
<text x="444.64" y="80.4" font-size="27.62" fill="#000" textLength="367.66" lengthAdjust="spacingAndGlyphs">Aussichtspunkt Martinshöhe</text>
<text x="443.11" y="112.7" font-size="27.62" fill="#000" textLength="148.77" lengthAdjust="spacingAndGlyphs">(953m NN)</text>
<text x="1351.17" y="909.2" font-size="27.62" fill="#000" textLength="234.21" lengthAdjust="spacingAndGlyphs">Winterwanderweg</text>
<text x="1349.34" y="941.1" font-size="27.62" fill="#000" textLength="235.99" lengthAdjust="spacingAndGlyphs">nach Sulzberg (A)</text>
<text x="1591.59" y="1254" font-size="28.49" fill="#000" textLength="174.82" lengthAdjust="spacingAndGlyphs">Langlaufloipe</text>
<g transform="translate(0.9,2071.1) rotate(2.4)">
<text x="-1.53" y="0" font-size="22.09" fill="#000" textLength="131.03" lengthAdjust="spacingAndGlyphs">nach Hopfen</text>
</g>
<g transform="translate(1981.1,60.4) rotate(53.45)">
<text x="-1.56" y="0" font-size="20.35" fill="#000" textLength="188.02" lengthAdjust="spacingAndGlyphs">nach Sulzberg (A)</text>
</g>
<text x="2096.76" y="49.4" font-size="67.15" fill="#0a05e8" textLength="905.27" lengthAdjust="spacingAndGlyphs">Skiregion Oberreute (Allgäu)</text>
<text x="2440.42" y="146.15" font-size="32.12" font-weight="bold" fill="#0a05e8" textLength="233.32" lengthAdjust="spacingAndGlyphs" stroke="#0a05e8" stroke-width="0.9" stroke-linejoin="round">Infrastruktur</text>
<text x="2441.87" y="183.7" font-size="31.98" font-weight="bold" fill="#000" textLength="19.72" lengthAdjust="spacingAndGlyphs" stroke="#000" stroke-width="1.0" stroke-linejoin="round">1</text>
<text x="2475.33" y="184.2" font-size="33.43" fill="#000" textLength="219.77" lengthAdjust="spacingAndGlyphs">Antoniushütte</text>
<text x="2468.45" y="217.7" font-size="27.62" fill="#000" textLength="386.67" lengthAdjust="spacingAndGlyphs">SB-Hütte mit Sonnenterrasse</text>
<text x="2469.68" y="248.6" font-size="27.62" fill="#000" textLength="44.13" lengthAdjust="spacingAndGlyphs">WC</text>
<text x="2442.86" y="286.2" font-size="31.98" font-weight="bold" fill="#000" textLength="19.87" lengthAdjust="spacingAndGlyphs" stroke="#000" stroke-width="1.0" stroke-linejoin="round">2</text>
<text x="2475.08" y="286.7" font-size="33.43" fill="#000" textLength="341.45" lengthAdjust="spacingAndGlyphs">schwendingerSPORTS</text>
<text x="2468.47" y="319" font-size="27.62" fill="#000" textLength="388.33" lengthAdjust="spacingAndGlyphs">Schneesportschule Oberreute</text>
<text x="2469.67" y="350.4" font-size="27.62" fill="#000" textLength="150.02" lengthAdjust="spacingAndGlyphs">Vermietung</text>
<text x="2468.5" y="382.8" font-size="27.62" fill="#000" textLength="67.01" lengthAdjust="spacingAndGlyphs">Shop</text>
<text x="2442.26" y="419.2" font-size="31.98" font-weight="bold" fill="#000" textLength="20.36" lengthAdjust="spacingAndGlyphs" stroke="#000" stroke-width="1.0" stroke-linejoin="round">3</text>
<text x="2473.58" y="419.7" font-size="33.43" fill="#000" textLength="219.81" lengthAdjust="spacingAndGlyphs">Hochsträßlifte</text>
<text x="2467.51" y="452.1" font-size="27.62" fill="#000" textLength="77.53" lengthAdjust="spacingAndGlyphs">Kasse</text>
<text x="2467.33" y="483.9" font-size="27.62" fill="#000" textLength="244.63" lengthAdjust="spacingAndGlyphs">Erste-Hilfe-Station</text>
<text x="2442.59" y="520.6" font-size="31.98" font-weight="bold" fill="#000" textLength="18.9" lengthAdjust="spacingAndGlyphs" stroke="#000" stroke-width="1.0" stroke-linejoin="round">4</text>
<text x="2473.69" y="521.1" font-size="33.43" fill="#000" textLength="165.94" lengthAdjust="spacingAndGlyphs">Rodelbahn</text>
<text x="2442.4" y="558.9" font-size="31.98" font-weight="bold" fill="#000" textLength="19.9" lengthAdjust="spacingAndGlyphs" stroke="#000" stroke-width="1.0" stroke-linejoin="round">5</text>
<text x="2473.63" y="559.4" font-size="33.43" fill="#000" textLength="145.71" lengthAdjust="spacingAndGlyphs">Parkplatz</text>
<text x="2441.98" y="660.35" font-size="31.25" font-weight="bold" fill="#0a05e8" textLength="260.05" lengthAdjust="spacingAndGlyphs" stroke="#0a05e8" stroke-width="0.9" stroke-linejoin="round">Lifte &amp; Bahnen</text>
<text x="2442.72" y="698.5" font-size="31.98" font-weight="bold" fill="#000" textLength="22.6" lengthAdjust="spacingAndGlyphs" stroke="#000" stroke-width="1.0" stroke-linejoin="round">A</text>
<text x="2474.46" y="699" font-size="26.74" fill="#000" textLength="166.96" lengthAdjust="spacingAndGlyphs">Hochsträßlift</text>
<text x="2650.51" y="699" font-size="20.06" fill="#000" textLength="198.57" lengthAdjust="spacingAndGlyphs">(Doppelschlepplift)</text>
<text x="2443.16" y="736.6" font-size="31.98" font-weight="bold" fill="#000" textLength="22.03" lengthAdjust="spacingAndGlyphs" stroke="#000" stroke-width="1.0" stroke-linejoin="round">B</text>
<text x="2474.04" y="737.1" font-size="26.74" fill="#000" textLength="131.88" lengthAdjust="spacingAndGlyphs">Freibadlift</text>
<text x="2614.98" y="737.1" font-size="20.06" fill="#000" textLength="177.24" lengthAdjust="spacingAndGlyphs">(Bügelumlauflift)</text>
<text x="2442.89" y="774.8" font-size="31.98" font-weight="bold" fill="#000" textLength="21.32" lengthAdjust="spacingAndGlyphs" stroke="#000" stroke-width="1.0" stroke-linejoin="round">C</text>
<text x="2472.55" y="775.3" font-size="26.74" fill="#000" textLength="195.47" lengthAdjust="spacingAndGlyphs">Irsengunderlift</text>
<text x="2676.71" y="775.3" font-size="20.06" fill="#000" textLength="198.47" lengthAdjust="spacingAndGlyphs">(Doppelschlepplift)</text>
<text x="2442.99" y="812.9" font-size="31.98" font-weight="bold" fill="#000" textLength="23.9" lengthAdjust="spacingAndGlyphs" stroke="#000" stroke-width="1.0" stroke-linejoin="round">D</text>
<text x="2476.76" y="813.4" font-size="26.74" fill="#000" textLength="190.16" lengthAdjust="spacingAndGlyphs">SchwendlinLift</text>
<text x="2675.12" y="813.4" font-size="20.06" fill="#000" textLength="85.17" lengthAdjust="spacingAndGlyphs">(Seillift)</text>
<text x="2443.28" y="851.2" font-size="31.98" font-weight="bold" fill="#000" textLength="19.14" lengthAdjust="spacingAndGlyphs" stroke="#000" stroke-width="1.0" stroke-linejoin="round">E</text>
<text x="2473.86" y="851.7" font-size="26.74" fill="#000" textLength="188.45" lengthAdjust="spacingAndGlyphs">Zauberteppich</text>
<text x="2670.53" y="851.7" font-size="20.06" fill="#000" textLength="138.75" lengthAdjust="spacingAndGlyphs">(Förderband)</text>
<text x="2441.52" y="904.3" font-size="20.06" fill="#000" textLength="401.26" lengthAdjust="spacingAndGlyphs">(B und C ab Wintersaison 2017-2018)</text></svg>
</body></html>
